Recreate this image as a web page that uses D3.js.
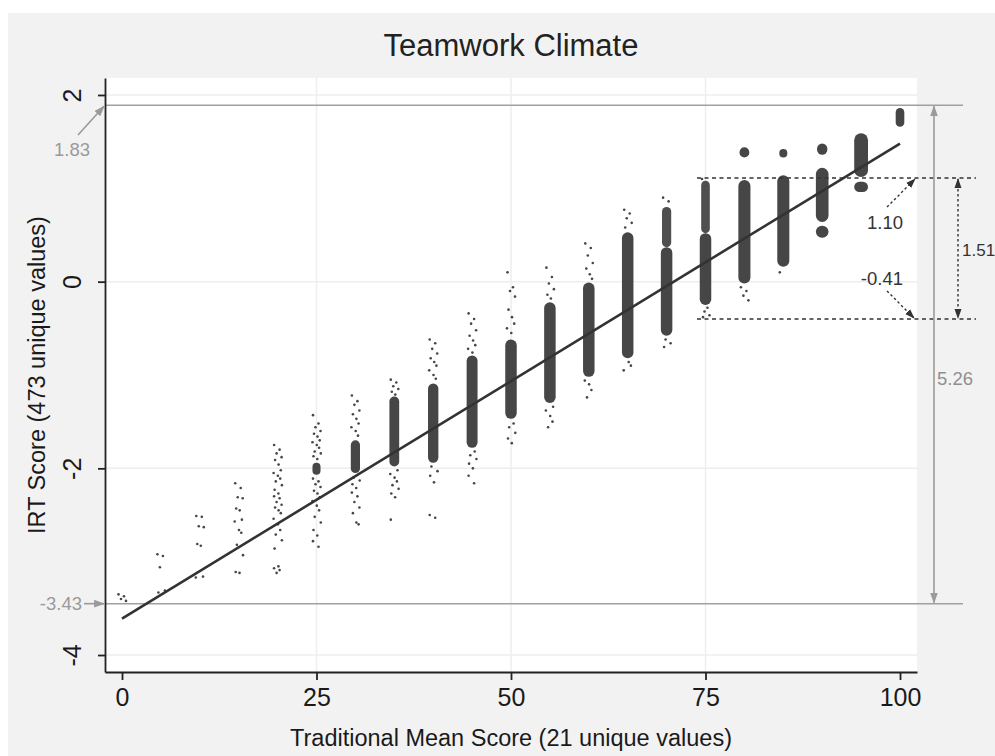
<!DOCTYPE html>
<html><head><meta charset="utf-8">
<script src="https://cdn.jsdelivr.net/npm/d3@7/dist/d3.min.js"></script>
<style>body{margin:0;background:#fff;}svg{display:block;font-family:"Liberation Sans",Arial,Helvetica,sans-serif;}</style>
</head><body>
<svg id="c" width="995" height="756"></svg>
<script>
// ---------- data ----------
const title = "Teamwork Climate";
const xTitle = "Traditional Mean Score (21 unique values)";
const yTitle = "IRT Score (473 unique values)";
const xTicks = [0, 25, 50, 75, 100];
const yTicks = [2, 0, -2, -4];

// dense cores per column: [x, yLow, yHigh, widthFactor, opacity]
const cores = [
  [25, -2.07, -1.94, 0.7, 1],
  [30, -2.05, -1.70, 0.8, 1],
  [35, -1.98, -1.23, 0.85, 1],
  [40, -1.94, -1.09, 0.9, 1],
  [45, -1.78, -0.79, 0.95, 1],
  [50, -1.47, -0.62, 1, 1],
  [55, -1.30, -0.22, 1, 1],
  [60, -1.02, -0.01, 1, 1],
  [65, -0.82, 0.53, 1, 1],
  [70, -0.58, 0.37, 1, 1],
  [70, 0.37, 0.80, 0.8, 0.95],
  [75, -0.25, 0.52, 1, 1],
  [75, 0.52, 1.08, 0.75, 0.95],
  [80, -0.02, 1.09, 1.05, 1],
  [80, 1.33, 1.44, 0.85, 1],
  [85, 0.16, 1.14, 1.05, 1],
  [85, 1.33, 1.42, 0.7, 1],
  [90, 0.64, 1.22, 1.1, 1],
  [90, 0.47, 0.60, 1.1, 1],
  [90, 1.36, 1.48, 0.9, 1],
  [95, 1.12, 1.59, 1.2, 1],
  [95, 0.96, 1.07, 1.2, 1],
  [100, 1.66, 1.86, 0.75, 1]
];

// sparse points per column (IRT values)
const sparse = {
  0: [-3.35, -3.37, -3.40, -3.42],
  5: [-2.92, -2.94, -3.06, -3.31, -3.33],
  10: [-2.51, -2.52, -2.62, -2.63, -2.81, -2.83, -3.16, -3.17],
  15: [-2.16, -2.21, -2.31, -2.32, -2.43, -2.45, -2.55, -2.57, -2.66, -2.69, -2.82, -2.93, -3.11, -3.12],
  20: [-1.75, -1.80, -1.84, -1.88, -1.91, -1.96, -2.02, -2.05, -2.08, -2.11, -2.14, -2.18, -2.23, -2.27, -2.30, -2.32, -2.36, -2.39, -2.42, -2.45, -2.48, -2.54, -2.60, -2.66, -2.71, -2.77, -2.86, -3.05, -3.07, -3.09, -3.12],
  25: [-1.43, -1.52, -1.56, -1.60, -1.63, -1.66, -1.70, -1.72, -1.75, -1.78, -1.82, -1.84, -1.87, -1.90, -2.11, -2.14, -2.17, -2.20, -2.24, -2.27, -2.31, -2.35, -2.40, -2.45, -2.52, -2.58, -2.66, -2.72, -2.78, -2.84],
  30: [-1.22, -1.28, -1.32, -1.38, -1.42, -1.47, -1.52, -1.56, -1.60, -1.65, -2.10, -2.13, -2.17, -2.21, -2.26, -2.30, -2.36, -2.42, -2.48, -2.58, -2.60],
  35: [-1.05, -1.08, -1.12, -1.15, -1.18, -1.21, -2.02, -2.06, -2.10, -2.14, -2.18, -2.22, -2.27, -2.31, -2.55],
  40: [-0.62, -0.66, -0.72, -0.77, -0.82, -0.86, -0.90, -0.95, -1.00, -1.04, -1.98, -2.03, -2.08, -2.15, -2.50, -2.53],
  45: [-0.34, -0.40, -0.45, -0.52, -0.58, -0.63, -0.68, -0.72, -0.76, -1.82, -1.86, -1.90, -1.95, -2.00, -2.08, -2.16],
  50: [0.10, -0.06, -0.10, -0.16, -0.30, -0.38, -0.45, -0.50, -0.55, -1.52, -1.56, -1.62, -1.68, -1.73],
  55: [0.15, 0.05, -0.02, -0.08, -0.14, -0.18, -1.34, -1.38, -1.44, -1.50, -1.56],
  60: [0.41, 0.36, 0.28, 0.20, 0.14, 0.08, 0.03, -1.06, -1.10, -1.16, -1.24],
  65: [0.77, 0.73, 0.68, 0.63, 0.58, -0.86, -0.90, -0.95],
  70: [0.90, 0.86, -0.62, -0.66, -0.70],
  75: [1.10, -0.28, -0.32, -0.36, -0.38],
  80: [-0.06, -0.10, -0.15, -0.20],
  85: [0.10],
  90: [],
  95: [],
  100: []
};

// fitted regression line end points
const fitLine = [{x: 0, y: -3.61}, {x: 100, y: 1.48}];

// annotation values
const rangeLines = [{y: 1.89, label: "1.83"}, {y: -3.45, label: "-3.43"}];
const iqrLines = [{y: 1.11, label: "1.10"}, {y: -0.40, label: "-0.41"}];
const rangeLabel = "5.26";
const iqrLabel = "1.51";

// ---------- layout ----------
const svg = d3.select("#c");
const L = 105, R = 917, T = 78, B = 672;
const x = d3.scaleLinear().domain([-2.185, 102.185]).range([L, R]);
const y = d3.scaleLinear().domain([-4.182, 2.182]).range([B, T]);
const colW = 11.5;
const FONT = "Liberation Sans, Arial, sans-serif";

svg.append("rect").attr("x", 8).attr("y", 13).attr("width", 987).attr("height", 743).attr("fill", "#f3f2f3");
svg.append("rect").attr("x", L).attr("y", T).attr("width", R - L).attr("height", B - T).attr("fill", "#ffffff");

// grid
svg.append("g").selectAll("line").data(xTicks.filter(d => d > 0 && d < 100)).join("line")
  .attr("x1", d => x(d)).attr("x2", d => x(d)).attr("y1", T).attr("y2", B)
  .attr("stroke", "#eeeeee").attr("stroke-width", 1.5);
svg.append("g").selectAll("line").data(yTicks).join("line")
  .attr("x1", L).attr("x2", R).attr("y1", d => y(d)).attr("y2", d => y(d))
  .attr("stroke", "#eeeeee").attr("stroke-width", 1.5);

// defs
const defs = svg.append("defs");
function marker(id, color, size) {
  defs.append("marker").attr("id", id).attr("viewBox", "0 0 10 10").attr("refX", 9).attr("refY", 5)
    .attr("markerWidth", size).attr("markerHeight", size).attr("orient", "auto-start-reverse")
    .attr("markerUnits", "userSpaceOnUse")
    .append("path").attr("d", "M0,1.5 L10,5 L0,8.5 Z").attr("fill", color);
}
marker("ag", "#9a9a9a", 11);
marker("ad", "#333333", 10);

// grey range lines
svg.append("g").selectAll("line").data(rangeLines).join("line")
  .attr("x1", L).attr("x2", 963).attr("y1", d => y(d.y)).attr("y2", d => y(d.y))
  .attr("stroke", "#a0a0a0").attr("stroke-width", 1.6);

// points
const pointColor = "#464646";
const jit = [-3.5, 2, -1, 4, -2.5, 1, 3.2, -4, 0.3, 2.6, -1.8, 4.3, -3, 0.8];
const pts = [];
Object.keys(sparse).forEach(k => sparse[k].forEach((v, i) => pts.push({x: +k, y: v, j: jit[i % jit.length]})));
svg.append("g").selectAll("rect").data(cores).join("rect")
  .attr("x", d => x(d[0]) - colW * d[3] / 2).attr("width", d => colW * d[3])
  .attr("y", d => y(d[2])).attr("height", d => y(d[1]) - y(d[2]))
  .attr("rx", d => Math.min(colW * d[3] / 2, (y(d[1]) - y(d[2])) / 2)).attr("fill", pointColor)
  .attr("opacity", d => d[4]);
svg.append("g").selectAll("circle").data(pts).join("circle")
  .attr("cx", d => x(d.x) + d.j).attr("cy", d => y(d.y)).attr("r", 1.3).attr("fill", pointColor);

// fit line
svg.append("path").datum(fitLine)
  .attr("d", d3.line().x(d => x(d.x)).y(d => y(d.y)))
  .attr("stroke", "#333").attr("stroke-width", 2.6).attr("fill", "none");

// dashed IQR lines
svg.append("g").selectAll("line").data(iqrLines).join("line")
  .attr("x1", 697).attr("x2", 976).attr("y1", d => y(d.y)).attr("y2", d => y(d.y))
  .attr("stroke", "#333").attr("stroke-width", 1.5).attr("stroke-dasharray", "4,3.5");

// axes
const ax = svg.append("g").attr("transform", `translate(0,${B})`)
  .call(d3.axisBottom(x).tickValues(xTicks).tickSize(8).tickPadding(8).tickSizeOuter(0));
ax.select(".domain").attr("stroke", "#222").attr("stroke-width", 1.8);
ax.selectAll(".tick line").attr("stroke", "#222").attr("stroke-width", 1.8);
ax.selectAll("text").attr("font-size", 25).attr("fill", "#1a1a1a").attr("font-family", FONT);
const ay = svg.append("g").attr("transform", `translate(${L},0)`)
  .call(d3.axisLeft(y).tickValues(yTicks).tickSize(7).tickFormat(d => String(d)).tickSizeOuter(0));
ay.select(".domain").attr("stroke", "#222").attr("stroke-width", 1.8);
ay.selectAll(".tick line").attr("stroke", "#222").attr("stroke-width", 1.8);
ay.selectAll("text").attr("font-size", 25).attr("fill", "#1a1a1a").attr("font-family", FONT)
  .attr("x", null).attr("dy", null)
  .attr("transform", "translate(-33,0) rotate(-90)").attr("text-anchor", "middle").attr("dominant-baseline", "central");

// titles
svg.append("text").attr("x", 511).attr("y", 56).attr("text-anchor", "middle")
  .attr("font-size", 31).attr("fill", "#222").text(title);
svg.append("text").attr("x", 511).attr("y", 746).attr("text-anchor", "middle")
  .attr("font-size", 23.5).attr("fill", "#1a1a1a").text(xTitle);
svg.append("text").attr("transform", `translate(45,${(T + B) / 2}) rotate(-90)`).attr("text-anchor", "middle")
  .attr("font-size", 23.5).attr("fill", "#1a1a1a").text(yTitle);

// range annotations (left)
svg.append("line").attr("x1", 78).attr("y1", 135).attr("x2", L - 1).attr("y2", y(rangeLines[0].y) + 1)
  .attr("stroke", "#9a9a9a").attr("stroke-width", 1.6).attr("marker-end", "url(#ag)");
svg.append("text").attr("x", 72).attr("y", 156).attr("text-anchor", "middle").attr("font-size", 18.5)
  .attr("fill", "#9a9a9a").text(rangeLines[0].label);
svg.append("line").attr("x1", 84).attr("y1", y(rangeLines[1].y)).attr("x2", L - 1).attr("y2", y(rangeLines[1].y))
  .attr("stroke", "#9a9a9a").attr("stroke-width", 1.6).attr("marker-end", "url(#ag)");
svg.append("text").attr("x", 82).attr("y", y(rangeLines[1].y) + 6.5).attr("text-anchor", "end").attr("font-size", 18.5)
  .attr("fill", "#9a9a9a").text(rangeLines[1].label);

// 5.26 vertical arrow
svg.append("line").attr("x1", 934).attr("x2", 934).attr("y1", y(rangeLines[0].y) + 1).attr("y2", y(rangeLines[1].y) - 1)
  .attr("stroke", "#9a9a9a").attr("stroke-width", 1.6)
  .attr("marker-start", "url(#ag)").attr("marker-end", "url(#ag)");
svg.append("text").attr("x", 937).attr("y", 385).attr("font-size", 18.5).attr("fill", "#8f8f8f").text(rangeLabel);

// 1.51 vertical dotted arrow
svg.append("line").attr("x1", 958).attr("x2", 958).attr("y1", y(iqrLines[0].y) + 1).attr("y2", y(iqrLines[1].y) - 1)
  .attr("stroke", "#333").attr("stroke-width", 1.4).attr("stroke-dasharray", "2.5,2.5")
  .attr("marker-start", "url(#ad)").attr("marker-end", "url(#ad)");
svg.append("text").attr("x", 962).attr("y", 256).attr("font-size", 17).attr("fill", "#333").text(iqrLabel);

// 1.10 / -0.41 labels and dotted arrows
svg.append("text").attr("x", 903).attr("y", 229).attr("text-anchor", "end").attr("font-size", 18.5)
  .attr("fill", "#333").text(iqrLines[0].label);
svg.append("line").attr("x1", 887).attr("y1", 207).attr("x2", 915).attr("y2", y(iqrLines[0].y) + 1)
  .attr("stroke", "#333").attr("stroke-width", 1.4).attr("stroke-dasharray", "2.5,2.5").attr("marker-end", "url(#ad)");
svg.append("text").attr("x", 903).attr("y", 285).attr("text-anchor", "end").attr("font-size", 18.5)
  .attr("fill", "#333").text(iqrLines[1].label);
svg.append("line").attr("x1", 887).attr("y1", 291).attr("x2", 914).attr("y2", y(iqrLines[1].y) - 1)
  .attr("stroke", "#333").attr("stroke-width", 1.4).attr("stroke-dasharray", "2.5,2.5").attr("marker-end", "url(#ad)");
</script>
</body></html>
